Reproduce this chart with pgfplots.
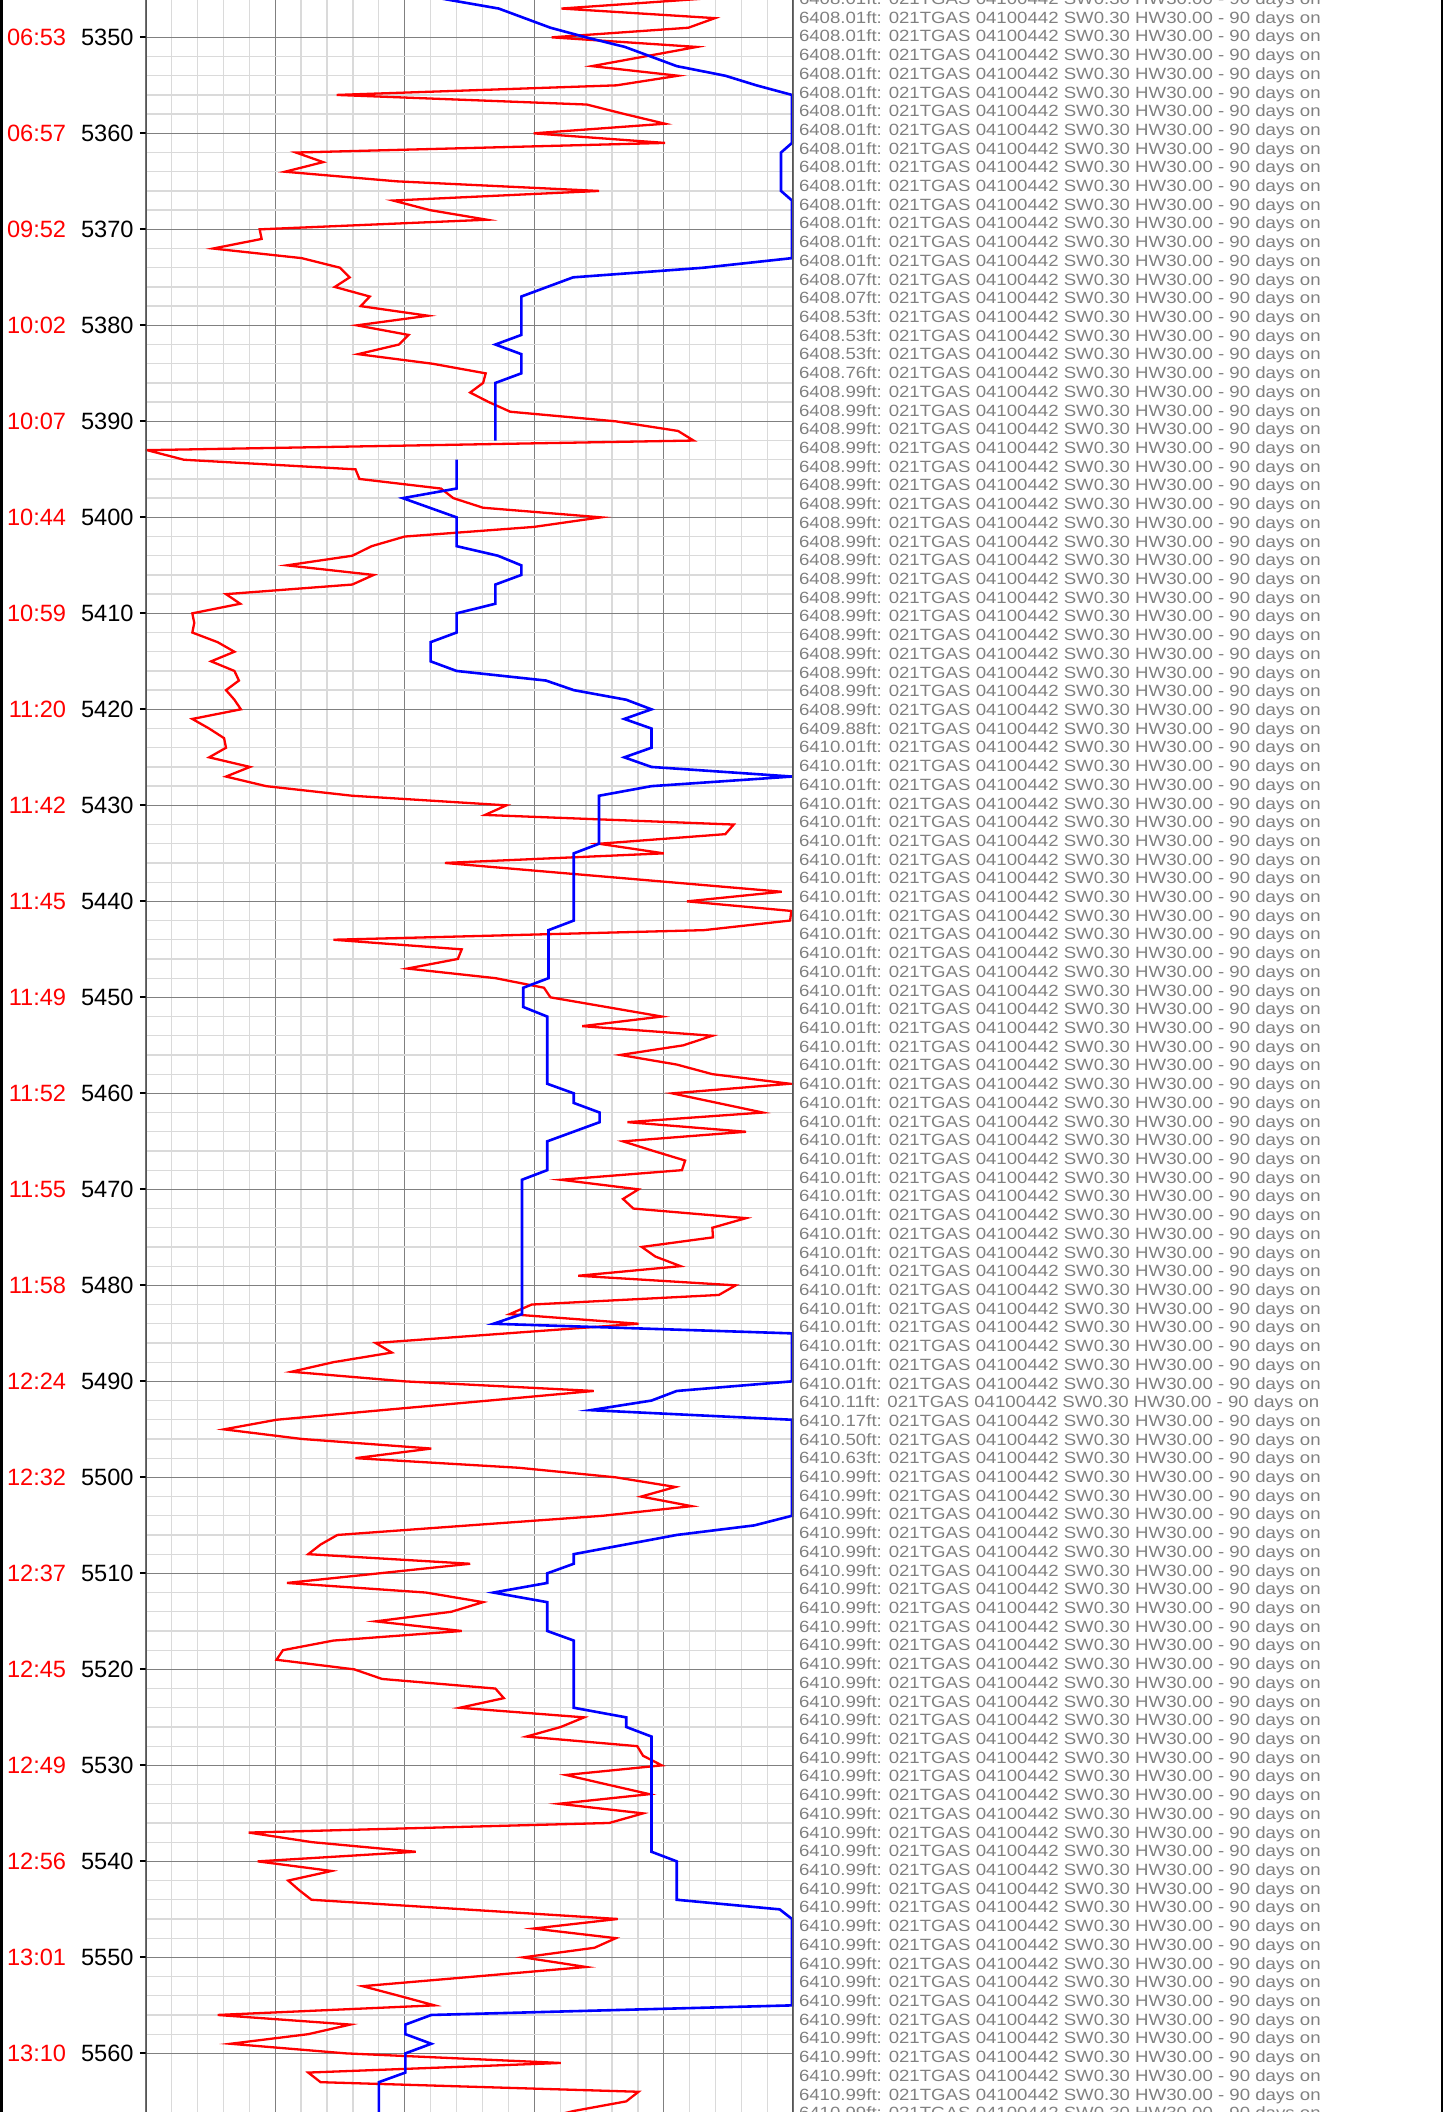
\documentclass[border=0pt]{standalone}
\usepackage{pgfplots}
\pgfplotsset{compat=1.18}
\usepackage{fontspec}
\setmainfont{Liberation Sans}
\newfontfamily\logfont[FakeStretch=1.143]{Liberation Sans}
\definecolor{loggray}{RGB}{128,128,128}
\definecolor{majgrid}{RGB}{128,128,128}
\definecolor{mingrid}{RGB}{218,218,218}
\definecolor{axgray}{RGB}{85,85,85}

\pgfplotstableread{
x y
86 5345
85.5 5346
64.2 5347
87.9 5348
83.8 5349
62.7 5350
85.1 5351
77 5352
68.9 5353
82.2 5354
72.7 5355
29.5 5356
68.1 5357
74 5358
80.2 5359
59.9 5360
80.2 5361
23.2 5362
27.4 5363
21.5 5364
38.8 5365
70 5366
38.2 5367
43.9 5368
52.7 5369
17.6 5370
17.9 5371
10.4 5372
24.1 5373
30 5374
31.5 5375
29.2 5376
34.6 5377
33.2 5378
43.6 5379
32.6 5380
40.6 5381
39.1 5382
32.8 5383
44.3 5384
52.5 5385
52.1 5386
50.1 5387
53 5388
56.3 5389
72.6 5390
82.2 5391
84.6 5392
0.2 5393
5.9 5394
32.4 5395
33 5396
45.6 5397
47.5 5398
52.1 5399
70.3 5400
59.9 5401
40 5402
34.9 5403
31.9 5404
21.8 5405
35.2 5406
31.9 5407
12.4 5408
14.6 5409
7.2 5410
7.5 5411
7.2 5412
11.1 5413
13.7 5414
10.1 5415
13.7 5416
14.4 5417
12.4 5418
13.7 5419
14.7 5420
7.2 5421
9.8 5422
12.1 5423
12.4 5424
9.8 5425
16.1 5426
12.4 5427
18.6 5428
31.9 5429
55.7 5430
52.4 5431
90.8 5432
89.5 5433
70 5434
80 5435
46.2 5436
63.5 5437
80.9 5438
98.2 5439
83.6 5440
99.7 5441
99.5 5442
86.2 5443
29 5444
48.8 5445
48.2 5446
40.4 5447
54 5448
61.5 5449
62.5 5450
71.1 5451
79.7 5452
67.4 5453
87.5 5454
83 5455
73.3 5456
82 5457
87.5 5458
99.5 5459
81.3 5460
88.3 5461
95.3 5462
74.4 5463
92.7 5464
73.7 5465
78.4 5466
83.3 5467
82.8 5468
64.1 5469
76.1 5470
73.7 5471
75.3 5472
92.7 5473
87.5 5474
87.6 5475
76.6 5476
78.7 5477
82.6 5478
66.8 5479
91.1 5480
88.5 5481
59.6 5482
56.2 5483
76.1 5484
55.8 5485
35.5 5486
38 5487
29 5488
22.5 5489
40 5490
69.2 5491
53 5492
36.5 5493
20.2 5494
12.1 5495
24.1 5496
44.1 5497
32.4 5498
57.6 5499
72.6 5500
81.8 5501
76.5 5502
84.3 5503
70.6 5504
50 5505
29.6 5506
27 5507
25.1 5508
50.1 5509
36 5510
21.8 5511
43.3 5512
52.1 5513
47.2 5514
35.5 5515
48.8 5516
29 5517
21.2 5518
20.2 5519
32.2 5520
36.5 5521
54 5522
55.3 5523
48.5 5524
67.7 5525
64.1 5526
58.8 5527
75.9 5528
76.8 5529
79.7 5530
64.9 5531
71.3 5532
77.8 5533
63.8 5534
76.8 5535
71.6 5536
15.9 5537
25.7 5538
41.7 5539
17.3 5540
28.7 5541
22 5542
23.7 5543
25.6 5544
49.2 5545
72.9 5546
59.9 5547
72.6 5548
69.3 5549
58.3 5550
68 5551
50.8 5552
33.5 5553
39.1 5554
44.6 5555
11.1 5556
31.6 5557
25.1 5558
13.1 5559
30.9 5560
64.1 5561
25.1 5562
27 5563
76.1 5564
74.2 5565
66.1 5566
60 5567
}\redtable

\pgfplotstableread{
x y
40 5345
46 5346
54.5 5347
58.5 5348
62.5 5349
68 5350
74 5351
78 5352
82 5353
89.5 5354
94.3 5355
99.8 5356
99.8 5361
98.1 5362
98.1 5366
99.8 5367
99.8 5373
86.1 5374
66 5375
62 5376
58 5377
58 5381
54 5382
58 5383
58 5385
54 5386
54 5392
nan nan
48 5394
48 5397
39.7 5398
48 5400
48 5403
54.4 5404
58 5405
58 5406
54 5407
54 5409
48 5410
48 5412
44 5413
44 5415
48 5416
61.8 5417
66.1 5418
74.2 5419
78.1 5420
73.9 5421
78.1 5422
78.1 5424
73.9 5425
78.1 5426
99.8 5427
78.1 5428
70 5429
70 5434
66.1 5435
66.1 5442
62.2 5443
62.2 5448
58.3 5449
58.3 5451
62 5452
62 5459
66.1 5460
66.1 5461
70.1 5462
70.1 5463
62 5465
62 5468
58.1 5469
58.1 5483
53.7 5484
99.8 5485
99.8 5490
82 5491
78.1 5492
68.7 5493
99.8 5494
99.8 5504
94 5505
82 5506
66.1 5508
66.1 5509
62 5510
62 5511
53.7 5512
62 5513
62 5516
66.1 5517
66.1 5524
74.2 5525
74.2 5526
78.1 5527
78.1 5539
82 5540
82 5544
97.9 5545
99.8 5546
99.8 5555
44.1 5556
40.1 5557
40.1 5558
44.1 5559
40.1 5560
40.1 5562
36 5563
36 5567
}\bluetable

\begin{document}
\begin{tikzpicture}[x=1pt,y=1pt]
\useasboundingbox (0,0) rectangle (724,1056);
\clip (0,0) rectangle (724,1056);
\begin{axis}[
  at={(72.85pt,0pt)}, anchor=south west,
  scale only axis, width=323.8pt, height=1056pt,
  xmin=0, xmax=100, ymin=5346.115, ymax=5566.11, y dir=reverse,
  xtick={0,20,...,100}, xticklabels={},
  minor x tick num=4,
  ytick={5350,5360,...,5560},
  minor y tick num=4,
  yticklabels={
    \textcolor{red}{06:53}\hspace{7.5pt}5350,
    \textcolor{red}{06:57}\hspace{7.5pt}5360,
    \textcolor{red}{09:52}\hspace{7.5pt}5370,
    \textcolor{red}{10:02}\hspace{7.5pt}5380,
    \textcolor{red}{10:07}\hspace{7.5pt}5390,
    \textcolor{red}{10:44}\hspace{7.5pt}5400,
    \textcolor{red}{10:59}\hspace{7.5pt}5410,
    \textcolor{red}{11:20}\hspace{7.5pt}5420,
    \textcolor{red}{11:42}\hspace{7.5pt}5430,
    \textcolor{red}{11:45}\hspace{7.5pt}5440,
    \textcolor{red}{11:49}\hspace{7.5pt}5450,
    \textcolor{red}{11:52}\hspace{7.5pt}5460,
    \textcolor{red}{11:55}\hspace{7.5pt}5470,
    \textcolor{red}{11:58}\hspace{7.5pt}5480,
    \textcolor{red}{12:24}\hspace{7.5pt}5490,
    \textcolor{red}{12:32}\hspace{7.5pt}5500,
    \textcolor{red}{12:37}\hspace{7.5pt}5510,
    \textcolor{red}{12:45}\hspace{7.5pt}5520,
    \textcolor{red}{12:49}\hspace{7.5pt}5530,
    \textcolor{red}{12:56}\hspace{7.5pt}5540,
    \textcolor{red}{13:01}\hspace{7.5pt}5550,
    \textcolor{red}{13:10}\hspace{7.5pt}5560},
  yticklabel style={font=\fontsize{11.8}{14}\selectfont, anchor=east, inner sep=0pt, xshift=-3pt},
  ytick pos=left,
  tick align=outside,
  major tick length=2.85pt,
  ytick style={black, line width=1pt},
  xtick style={draw=none},
  minor tick style={draw=none},
  grid=both,
  major grid style={majgrid, line width=0.55pt},
  minor grid style={mingrid, line width=0.65pt},
  axis line style={draw=none},
  unbounded coords=jump,
]
\addplot[red, line width=1.15pt, line join=miter] table[x=x, y=y] {\redtable};
\addplot[blue, line width=1.3pt, line join=miter] table[x=x, y=y] {\bluetable};
\draw[axgray, line width=1pt] (rel axis cs:0,0) -- (rel axis cs:0,1);
\draw[axgray, line width=1pt] (rel axis cs:1,0) -- (rel axis cs:1,1);
\end{axis}
\foreach \dv [count=\i from 0] in {
6408.01,6408.01,6408.01,6408.01,6408.01,6408.01,6408.01,6408.01,6408.01,6408.01,
6408.01,6408.01,6408.01,6408.01,6408.01,6408.07,6408.07,6408.53,6408.53,6408.53,
6408.76,6408.99,6408.99,6408.99,6408.99,6408.99,6408.99,6408.99,6408.99,6408.99,
6408.99,6408.99,6408.99,6408.99,6408.99,6408.99,6408.99,6408.99,6408.99,6409.88,
6410.01,6410.01,6410.01,6410.01,6410.01,6410.01,6410.01,6410.01,6410.01,6410.01,
6410.01,6410.01,6410.01,6410.01,6410.01,6410.01,6410.01,6410.01,6410.01,6410.01,
6410.01,6410.01,6410.01,6410.01,6410.01,6410.01,6410.01,6410.01,6410.01,6410.01,
6410.01,6410.01,6410.01,6410.01,6410.01,6410.11,6410.17,6410.50,6410.63,6410.99,
6410.99,6410.99,6410.99,6410.99,6410.99,6410.99,6410.99,6410.99,6410.99,6410.99,
6410.99,6410.99,6410.99,6410.99,6410.99,6410.99,6410.99,6410.99,6410.99,6410.99,
6410.99,6410.99,6410.99,6410.99,6410.99,6410.99,6410.99,6410.99,6410.99,6410.99,
6410.99,6410.99,6410.99,6410.99}{
  \node[anchor=base west, inner sep=0pt, text=loggray, font=\logfont\fontsize{8.15}{9}\selectfont]
    at (399.3, {1053.75-9.355*\i}) {\dv ft: 021TGAS 04100442 SW0.30 HW30.00 - 90 days on};
}
\draw[black, line width=1.5pt] (0.75,0) -- (0.75,1056);
\draw[black, line width=1.1pt] (721,0) -- (721,1056);
\end{tikzpicture}
\end{document}
